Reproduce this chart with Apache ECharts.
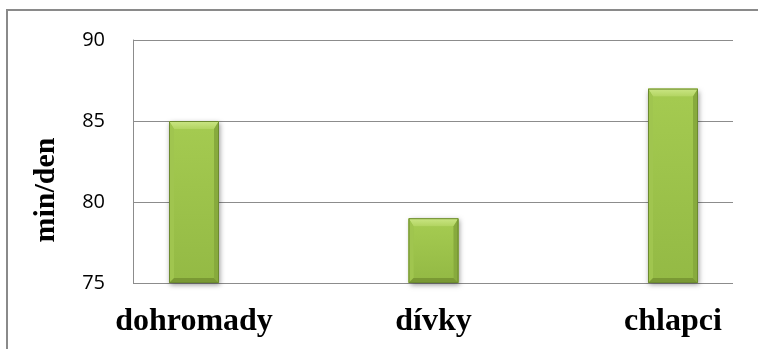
<!DOCTYPE html>
<html>
<head>
<meta charset="utf-8">
<script src="https://cdn.jsdelivr.net/npm/echarts@6/dist/echarts.min.js"></script>
<style>
  html, body { margin: 0; padding: 0; background: #fff; overflow: hidden; }
  #chart { width: 758px; height: 349px; }
</style>
</head>
<body>
<div id="chart"></div>
<script>
// Average time per day (minutes), overall and by gender
const categories = ['dohromady', 'dívky', 'chlapci'];
const minutesPerDay = [85, 79, 87];
const yTicks = { min: 75, max: 90, step: 5 };
const yTitle = 'min/den';

const chart = echarts.init(document.getElementById('chart'));

const SERIF = '"Liberation Serif", "Times New Roman", serif';
const SANS = '"Open Sans", "Liberation Sans", sans-serif';

// Bevelled bar: front face plus four slanted facets
function renderBar(params, api) {
  const idx = api.value(0);
  const val = api.value(1);
  const topPt = api.coord([idx, val]);
  const basePt = api.coord([idx, yTicks.min]);
  const w = 50;
  const l = topPt[0] - w / 2, r = l + w;
  const t = topPt[1], b = basePt[1];
  const bt = 8, bs = 5, bb = 5;
  return {
    type: 'group',
    children: [
      {
        type: 'rect',
        shape: { x: l, y: t, width: w, height: b - t },
        style: {
          fill: '#9cc24b',
          shadowColor: 'rgba(0,0,0,0.4)',
          shadowBlur: 5,
          shadowOffsetX: 1,
          shadowOffsetY: 2
        }
      },
      {
        type: 'rect',
        shape: { x: l + bs, y: t + bt, width: w - 2 * bs, height: b - t - bt - bb },
        style: {
          fill: new echarts.graphic.LinearGradient(0, 0, 0, 1, [
            { offset: 0, color: '#a4ca50' },
            { offset: 1, color: '#94ba45' }
          ])
        }
      },
      {
        type: 'polygon',
        shape: { points: [[l, t], [r, t], [r - bs, t + bt], [l + bs, t + bt]] },
        style: {
          fill: new echarts.graphic.LinearGradient(0, 0, 0, 1, [
            { offset: 0, color: '#cbe685' },
            { offset: 1, color: '#b2d461' }
          ])
        }
      },
      {
        type: 'polygon',
        shape: { points: [[l, t], [l + bs, t + bt], [l + bs, b - bb], [l, b]] },
        style: { fill: '#a0c54f' }
      },
      {
        type: 'polygon',
        shape: { points: [[r, t], [r - bs, t + bt], [r - bs, b - bb], [r, b]] },
        style: { fill: '#87aa3d' }
      },
      {
        type: 'polygon',
        shape: { points: [[l, b], [l + bs, b - bb], [r - bs, b - bb], [r, b]] },
        style: { fill: '#7a9934' }
      },
      {
        type: 'rect',
        shape: { x: l + 0.5, y: t + 0.5, width: w - 1, height: b - t - 1 },
        style: { fill: 'none', stroke: '#6c8a2f', lineWidth: 1 }
      }
    ]
  };
}

chart.setOption({
  animation: false,
  backgroundColor: '#ffffff',
  grid: [
    { left: 133, top: 40, width: 600, height: 243 },
    { left: 194, top: 40, width: 479, height: 243 }
  ],
  xAxis: [
    {
      gridIndex: 0, type: 'category', data: categories, show: false
    },
    {
      gridIndex: 1, type: 'category', data: categories, boundaryGap: false,
      axisLine: { show: false }, axisTick: { show: false },
      splitLine: { show: false },
      axisLabel: {
        margin: 23,
        fontFamily: SERIF, fontWeight: 'bold', fontSize: 32, color: '#000'
      }
    }
  ],
  yAxis: [
    {
      gridIndex: 0, type: 'value',
      min: yTicks.min, max: yTicks.max, interval: yTicks.step,
      axisLine: { show: true, lineStyle: { color: '#8c8c8c', width: 1 } },
      axisTick: { show: false },
      splitLine: { show: true, lineStyle: { color: '#8c8c8c', width: 1 } },
      axisLabel: { margin: 28, fontFamily: SANS, fontSize: 20, color: '#000' }
    },
    {
      gridIndex: 1, type: 'value',
      min: yTicks.min, max: yTicks.max, interval: yTicks.step,
      show: false, splitLine: { show: false }
    }
  ],
  graphic: [
    {
      type: 'line', silent: true, z: -1,
      shape: { x1: 7, y1: 10, x2: 7, y2: 349 },
      style: { stroke: '#8a8a8a', lineWidth: 2 }
    },
    {
      type: 'line', silent: true, z: -1,
      shape: { x1: 6, y1: 10, x2: 758, y2: 10 },
      style: { stroke: '#8a8a8a', lineWidth: 2 }
    },
    {
      type: 'text', x: 46, y: 190, rotation: Math.PI / 2,
      style: {
        text: yTitle, font: 'bold 30px ' + SERIF, fill: '#000',
        align: 'center', verticalAlign: 'middle'
      }
    }
  ],
  series: [
    {
      type: 'custom',
      xAxisIndex: 1, yAxisIndex: 1,
      renderItem: renderBar,
      data: minutesPerDay.map((v, i) => [i, v])
    }
  ]
});
</script>
</body>
</html>
